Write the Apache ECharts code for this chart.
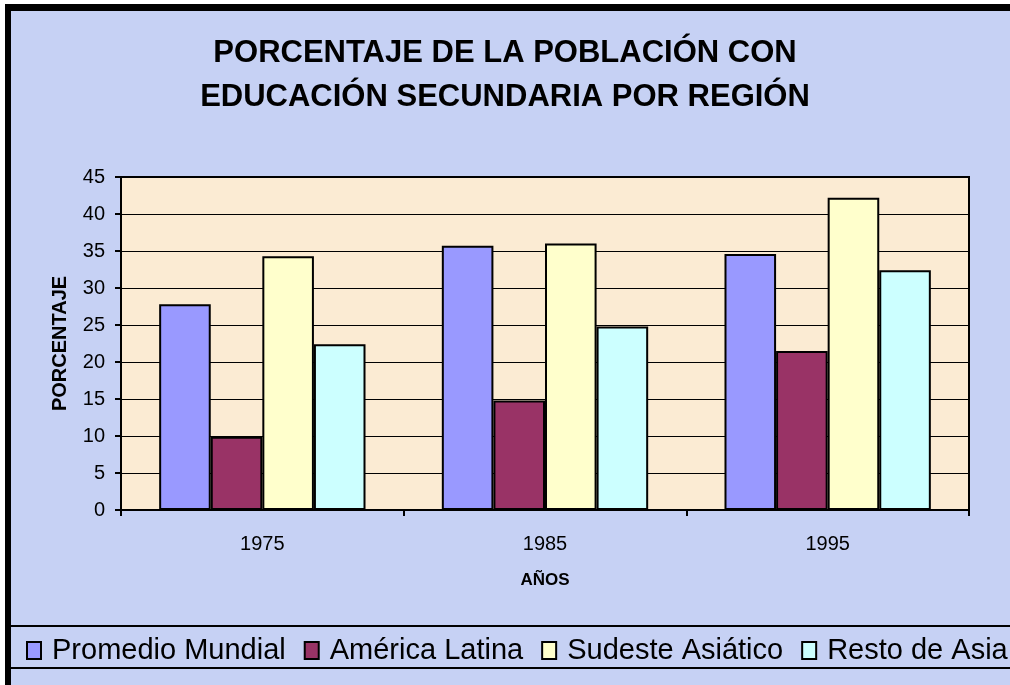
<!DOCTYPE html>
<html>
<head>
<meta charset="utf-8">
<script src="https://cdn.jsdelivr.net/npm/echarts@6/dist/echarts.min.js"></script>
<style>
    html, body { margin: 0; padding: 0; background: #fff; }
    #main { width: 1010px; height: 685px; }
</style>
</head>
<body>
<div id="main"></div>
<script>
    // datos
    var years = ['1975', '1985', '1995'];
    var promedioMundial = [27.8, 35.7, 34.6];
    var americaLatina = [9.9, 14.8, 21.5];
    var sudesteAsiatico = [34.3, 36.0, 42.2];
    var restoDeAsia = [22.4, 24.8, 32.4];
    var yTicks = [0, 5, 10, 15, 20, 25, 30, 35, 40, 45];

    var font = '"Liberation Sans", Arial, sans-serif';

    var chart = echarts.init(document.getElementById('main'));

    function barSeries(name, data, color) {
        return {
            name: name,
            type: 'bar',
            data: data,
            barGap: '0%',
            barCategoryGap: '27%',
            itemStyle: {
                color: color,
                borderColor: '#000',
                borderWidth: 2
            }
        };
    }

    var option = {
        backgroundColor: '#c6d1f4',
        animation: false,
        textStyle: { fontFamily: font, color: '#000' },
        title: {
            text: 'PORCENTAJE DE LA POBLACIÓN CON\nEDUCACIÓN SECUNDARIA POR REGIÓN',
            left: 'center',
            top: 26,
            textStyle: {
                fontFamily: font,
                fontSize: 31,
                fontWeight: 'bold',
                color: '#000',
                lineHeight: 44
            }
        },
        legend: {
            left: 21,
            top: 631,
            width: 1200,
            icon: 'rect',
            itemWidth: 14,
            itemHeight: 17,
            itemGap: 18,
            textStyle: { fontFamily: font, fontSize: 29, color: '#000', padding: [0, 0, 0, 6] },
            data: ['Promedio Mundial', 'América Latina', 'Sudeste Asiático', 'Resto de Asia']
        },
        grid: {
            left: 121,
            right: 41,
            top: 177,
            bottom: 175,
            show: true,
            backgroundColor: '#fbebd3',
            borderColor: '#000',
            borderWidth: 2
        },
        xAxis: {
            type: 'category',
            data: years,
            name: 'AÑOS',
            nameLocation: 'middle',
            nameGap: 62,
            nameTextStyle: { fontFamily: font, fontSize: 17, fontWeight: 'bold', color: '#000' },
            axisLine: { lineStyle: { color: '#000', width: 2 } },
            axisTick: { show: true, length: 6, lineStyle: { color: '#000', width: 2 } },
            axisLabel: { fontFamily: font, fontSize: 20, color: '#000', margin: 24 }
        },
        yAxis: {
            type: 'value',
            min: yTicks[0],
            max: yTicks[yTicks.length - 1],
            interval: 5,
            name: 'PORCENTAJE',
            nameLocation: 'middle',
            nameGap: 51,
            nameTextStyle: { fontFamily: font, fontSize: 20, fontWeight: 'bold', color: '#000' },
            axisLine: { show: true, lineStyle: { color: '#000', width: 2 } },
            axisTick: { show: true, length: 6, lineStyle: { color: '#000', width: 2 } },
            axisLabel: { fontFamily: font, fontSize: 20, color: '#000', margin: 16 },
            splitLine: { lineStyle: { color: '#000', width: 1.2 } }
        },
        graphic: [
            // marco negro de la hoja
            { type: 'rect', shape: { x: 0, y: 0, width: 1010, height: 4 }, style: { fill: '#fff' }, z: 100 },
            { type: 'rect', shape: { x: 0, y: 0, width: 5, height: 685 }, style: { fill: '#fff' }, z: 100 },
            { type: 'rect', shape: { x: 5, y: 4, width: 1005, height: 7 }, style: { fill: '#000' }, z: 100 },
            { type: 'rect', shape: { x: 5, y: 4, width: 6, height: 681 }, style: { fill: '#000' }, z: 100 },
            // caja de la leyenda
            { type: 'rect', shape: { x: 11, y: 625, width: 999, height: 2 }, style: { fill: '#000' }, z: 100 },
            { type: 'rect', shape: { x: 11, y: 667, width: 999, height: 2 }, style: { fill: '#000' }, z: 100 }
        ],
        series: [
            barSeries('Promedio Mundial', promedioMundial, '#9999ff'),
            barSeries('América Latina', americaLatina, '#993366'),
            barSeries('Sudeste Asiático', sudesteAsiatico, '#ffffcc'),
            barSeries('Resto de Asia', restoDeAsia, '#ccffff')
        ]
    };

    chart.setOption(option);
</script>
</body>
</html>
